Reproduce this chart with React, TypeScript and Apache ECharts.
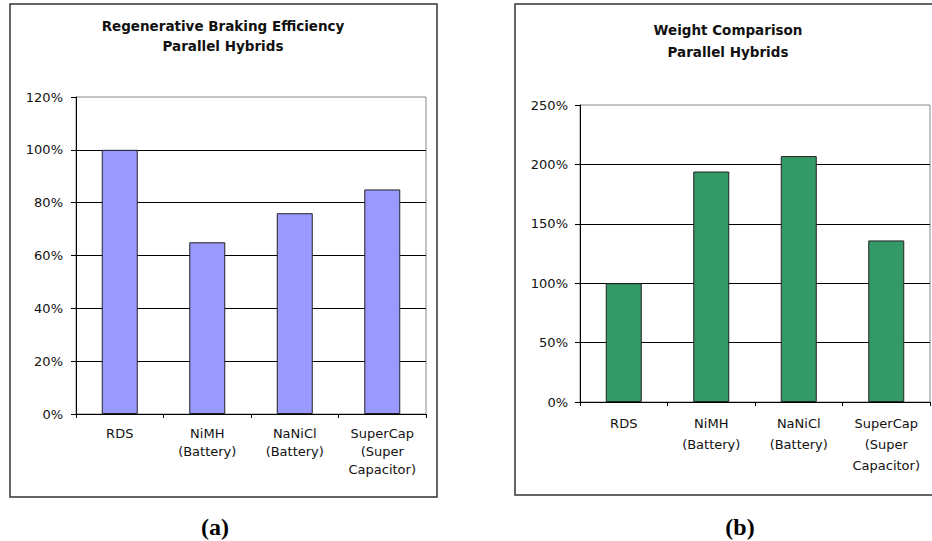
import React, { useEffect, useRef } from "react";
import * as echarts from "echarts";

// Shared categories for both panels
const categories = [
  "RDS",
  "NiMH\n(Battery)",
  "NaNiCl\n(Battery)",
  "SuperCap\n(Super\nCapacitor)",
];

// Panel (a): regenerative braking efficiency, percent
const efficiencyValues = [100, 65, 76, 85];
// Panel (b): weight relative to RDS, percent
const weightValues = [100, 194, 207, 136];

const efficiencyTitle = ["Regenerative Braking Efficiency", "Parallel Hybrids"];
const weightTitle = ["Weight Comparison", "Parallel Hybrids"];
const captions = ["(a)", "(b)"];

const FONT = "DejaVu Sans";

function valueAxis(gridIndex: number, max: number, interval: number, margin: number) {
  return {
    type: "value",
    gridIndex,
    min: 0,
    max,
    interval,
    axisLine: { show: true, lineStyle: { color: "#000", width: 1 } },
    axisTick: { show: true, length: 5, lineStyle: { color: "#000" } },
    axisLabel: {
      formatter: "{value}%",
      color: "#111",
      fontSize: 13,
      fontFamily: FONT,
      margin,
    },
    splitLine: {
      show: true,
      showMaxLine: false,
      showMinLine: false,
      lineStyle: { color: "#000", width: 1 },
    },
  };
}

function categoryAxis(gridIndex: number, lineHeight: number, margin: number) {
  return {
    type: "category",
    gridIndex,
    data: categories,
    axisLine: { show: true, lineStyle: { color: "#000", width: 1 } },
    axisTick: { show: true, length: 4, alignWithLabel: false, lineStyle: { color: "#000" } },
    axisLabel: {
      interval: 0,
      color: "#111",
      fontSize: 13,
      fontFamily: FONT,
      lineHeight,
      margin,
      align: "center",
    },
    splitLine: { show: false },
  };
}

function titleTexts(cx: number, y1: number, y2: number, lines: string[]) {
  return lines.map((t, i) => ({
    type: "text",
    x: cx,
    y: i === 0 ? y1 : y2,
    style: {
      text: t,
      textAlign: "center",
      textVerticalAlign: "middle",
      fontFamily: FONT,
      fontWeight: "bold",
      fontSize: 13.5,
      fill: "#111",
    },
  }));
}

export default function App() {
  const ref = useRef<HTMLDivElement>(null);

  useEffect(() => {
    if (!ref.current) return;
    const chart = echarts.init(ref.current, undefined, { renderer: "svg" });

    chart.setOption({
      animation: false,
      backgroundColor: "#fff",
      grid: [
        {
          left: 76,
          top: 97,
          width: 350,
          height: 317,
          show: true,
          backgroundColor: "#fff",
          borderColor: "#888",
          borderWidth: 1,
        },
        {
          left: 580,
          top: 105,
          width: 350,
          height: 297,
          show: true,
          backgroundColor: "#fff",
          borderColor: "#888",
          borderWidth: 1,
        },
      ],
      xAxis: [categoryAxis(0, 18, 10), categoryAxis(1, 21, 11)],
      yAxis: [valueAxis(0, 120, 20, 13), valueAxis(1, 250, 50, 12)],
      series: [
        {
          type: "bar",
          xAxisIndex: 0,
          yAxisIndex: 0,
          data: efficiencyValues,
          barWidth: 36,
          itemStyle: { color: "#9999ff", borderColor: "#222", borderWidth: 1 },
        },
        {
          type: "bar",
          xAxisIndex: 1,
          yAxisIndex: 1,
          data: weightValues,
          barWidth: 36,
          itemStyle: { color: "#339966", borderColor: "#222", borderWidth: 1 },
        },
      ],
      graphic: [
        {
          type: "rect",
          shape: { x: 10, y: 4, width: 427, height: 493 },
          style: { fill: "none", stroke: "#333", lineWidth: 1.5 },
          z: 100,
        },
        {
          type: "rect",
          shape: { x: 515, y: 4, width: 430, height: 491 },
          style: { fill: "none", stroke: "#333", lineWidth: 1.5 },
          z: 100,
        },
        ...titleTexts(223, 26, 46, efficiencyTitle),
        ...titleTexts(728, 30, 52, weightTitle),
        ...captions.map((c, i) => ({
          type: "text",
          x: i === 0 ? 215 : 740,
          y: 527,
          style: {
            text: c,
            textAlign: "center",
            textVerticalAlign: "middle",
            fontFamily: "Liberation Serif",
            fontWeight: "bold",
            fontSize: 24,
            fill: "#000",
          },
        })),
      ],
    });

    return () => chart.dispose();
  }, []);

  return (
    <div
      ref={ref}
      style={{ position: "absolute", left: 0, top: 0, width: 932, height: 541 }}
    />
  );
}
